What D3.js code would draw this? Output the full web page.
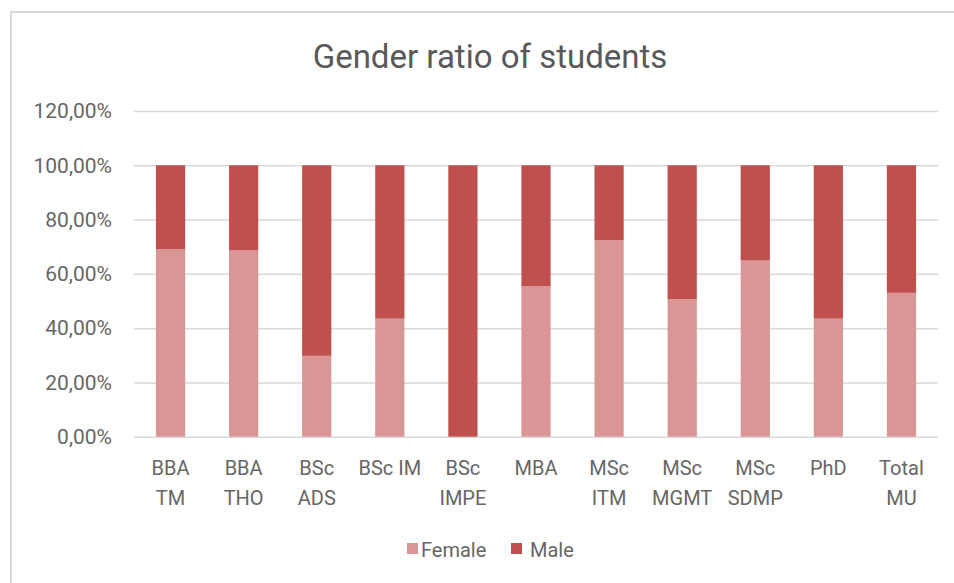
<!DOCTYPE html>
<html>
<head>
<meta charset="utf-8">
<script src="https://cdn.jsdelivr.net/npm/d3@7"></script>
<style>
  body { margin: 0; background: #fff; }
  svg { display: block; font-family: Roboto, "Open Sans", sans-serif; }
</style>
</head>
<body>
<div id="chart"></div>
<script>
// data
var categories = ["BBA TM", "BBA THO", "BSc ADS", "BSc IM", "BSc IMPE", "MBA",
  "MSc ITM", "MSc MGMT", "MSc SDMP", "PhD", "Total MU"];
var tickLabels = [["BBA", "TM"], ["BBA", "THO"], ["BSc", "ADS"], ["BSc IM"], ["BSc", "IMPE"],
  ["MBA"], ["MSc", "ITM"], ["MSc", "MGMT"], ["MSc", "SDMP"], ["PhD"], ["Total", "MU"]];
var female = [0.691, 0.686, 0.298, 0.435, 0, 0.554, 0.724, 0.507, 0.649, 0.435, 0.530];
var male = female.map(function (f) { return 1 - f; });
var seriesNames = ["Female", "Male"];
var colors = ["#d99694", "#c0504d"];
var yTicks = [0, 0.2, 0.4, 0.6, 0.8, 1.0, 1.2];

var width = 954, height = 583,
  margin = { top: 111, right: 16, bottom: 147, left: 134 };
var textColor = "#666666";

var svg = d3.select("#chart").append("svg")
  .attr("width", width)
  .attr("height", height);

// chart frame (runs off the right and bottom of the picture)
svg.append("rect")
  .attr("x", 11)
  .attr("y", 12)
  .attr("width", width + 20)
  .attr("height", height + 20)
  .attr("fill", "none")
  .attr("stroke", "#d9d9d9")
  .attr("stroke-width", 2);

svg.append("text")
  .attr("x", 490)
  .attr("y", 68)
  .attr("text-anchor", "middle")
  .attr("fill", "#595959")
  .style("font-size", "33px")
  .text("Gender ratio of students");

var rows = categories.map(function (c, i) {
  return { cat: c, Female: female[i], Male: male[i] };
});
var stacked = d3.stack().keys(seriesNames)(rows);

var x = d3.scaleBand()
  .domain(categories)
  .range([margin.left, width - margin.right])
  .paddingInner(0.6)
  .paddingOuter(0.3);

var y = d3.scaleLinear()
  .domain([0, 1.2])
  .range([height - margin.bottom + 0.7, margin.top]);

// gridlines + y labels
var yAxis = d3.axisLeft(y)
  .tickValues(yTicks)
  .tickSize(-(width - margin.right - margin.left))
  .tickPadding(22)
  .tickFormat(function (d) { return d3.format(".2f")(d * 100).replace(".", ",") + "%"; });

svg.append("g")
  .attr("transform", "translate(" + margin.left + ",0)")
  .call(yAxis)
  .call(g => g.select(".domain").remove())
  .call(g => g.selectAll(".tick line").attr("stroke", "#d9d9d9").attr("stroke-width", 1.5))
  .call(g => g.selectAll(".tick text")
    .attr("fill", textColor)
    .style("font-size", "21px")
    .style("font-family", "Roboto, sans-serif"));

// bars
svg.append("g")
  .selectAll("g")
  .data(stacked)
  .join("g")
  .attr("fill", function (d, i) { return colors[i]; })
  .selectAll("rect")
  .data(function (d) { return d; })
  .join("rect")
  .attr("x", function (d) { return x(d.data.cat); })
  .attr("y", function (d) { return y(d[1]); })
  .attr("width", x.bandwidth())
  .attr("height", function (d) { return y(d[0]) - y(d[1]); });

// category labels
var catLabel = svg.append("g")
  .selectAll("text")
  .data(categories)
  .join("text")
  .attr("x", function (d) { return x(d) + x.bandwidth() / 2; })
  .attr("y", 475)
  .attr("text-anchor", "middle")
  .attr("fill", textColor)
  .style("font-size", "20px");

catLabel.selectAll("tspan")
  .data(function (d, i) { return tickLabels[i]; })
  .join("tspan")
  .attr("x", function () { return d3.select(this.parentNode).attr("x"); })
  .attr("dy", function (d, i) { return i === 0 ? 0 : 30; })
  .text(function (d) { return d; });

// legend
var legendX = [407, 511];
var legendTextX = [421, 530];
seriesNames.forEach(function (name, i) {
  svg.append("rect")
    .attr("x", legendX[i])
    .attr("y", 543)
    .attr("width", 11)
    .attr("height", 11)
    .attr("fill", colors[i]);
  svg.append("text")
    .attr("x", legendTextX[i])
    .attr("y", 557)
    .attr("fill", textColor)
    .style("font-size", "20px")
    .text(name);
});
</script>
</body>
</html>
